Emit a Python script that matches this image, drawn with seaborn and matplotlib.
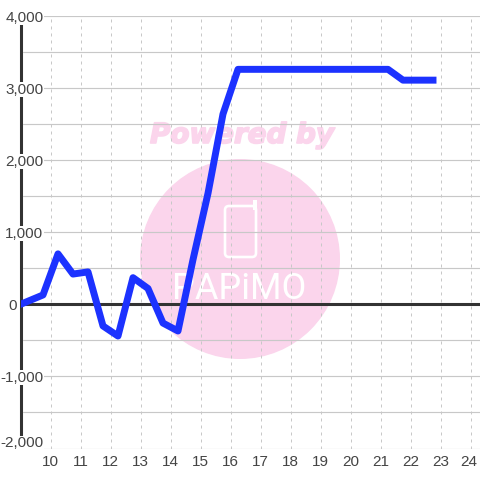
import matplotlib
matplotlib.use("Agg")
import matplotlib.pyplot as plt
import matplotlib.patheffects as pe
import matplotlib.transforms as mtrans
from matplotlib.patches import Circle, FancyBboxPatch, Rectangle
import pandas as pd
import seaborn as sns

hours = [9.0, 9.75, 10.25, 10.75, 11.25, 11.75, 12.25, 12.75, 13.25, 13.75, 14.25, 14.75,
         15.25, 15.75, 16.25, 16.75, 17.25, 17.75, 18.25, 18.75, 19.25, 19.75, 20.25,
         20.75, 21.25, 21.75, 22.25, 22.75]
values = [0, 130, 700, 420, 450, -300, -440, 370, 220, -260, -370, 620,
          1540, 2640, 3260, 3260, 3260, 3260, 3260, 3260, 3260, 3260, 3260,
          3260, 3260, 3110, 3110, 3110]
y_ticks = [-2000, -1000, 0, 1000, 2000, 3000, 4000]
y_labels = ["-2,000", "-1,000", "0", "1,000", "2,000", "3,000", "4,000"]
y_minor = [-1500, -500, 500, 1500, 2500, 3500]
x_ticks = list(range(10, 25))

sns.set_theme(style="white")
plt.rcParams["font.family"] = ["Liberation Sans", "DejaVu Sans"]

df = pd.DataFrame({"hour": hours, "value": values})

fig = plt.figure(figsize=(4.8, 4.8), dpi=100)
ax = fig.add_axes([20.5 / 480, 1 - 448.5 / 480, (480 - 20.5) / 480, (448.5 - 16) / 480])
ax.set_axisbelow(True)
ax.set_xlim(9, 9 + (480 - 20.5) / 30)
ax.set_ylim(-2000, 4000)

# watermark, in pixels from the top left corner
pix = mtrans.Affine2D().scale(1, -1).translate(0, 480)
pink = "#fbd5ec"
ax.add_patch(Circle((240, 259), 100, color=pink, lw=0, transform=pix, zorder=0.1))
ax.text(242, 135, "Powered by", transform=pix, ha="center", va="center", color=pink,
        fontsize=20, fontweight="bold", fontstyle="italic", family="DejaVu Sans", zorder=0.2,
        path_effects=[pe.withStroke(linewidth=1.2, foreground=pink)])
ax.add_patch(FancyBboxPatch((225, 206), 31, 51, boxstyle="round,pad=0,rounding_size=4", fc="none",
                            ec="white", lw=1.9, transform=pix, zorder=0.2))
ax.add_patch(Rectangle((253, 200), 3.5, 10, fc="white", lw=0, transform=pix, zorder=0.2))
ax.text(239, 289, "PAPiMO", transform=pix, ha="center", va="center", color="white",
        fontsize=26, family="Roboto", zorder=0.2)

sns.lineplot(data=df, x="hour", y="value", ax=ax, color="#1c32ff", lw=5, zorder=3,
             solid_capstyle="projecting", solid_joinstyle="round")
ax.axhline(0, color="#333333", lw=2.2, zorder=1.5)

ax.set_xlabel("")
ax.set_ylabel("")
ax.set_xticks(x_ticks)
ax.set_yticks(y_ticks)
ax.set_yticklabels(y_labels)
ax.set_yticks(y_minor, minor=True)

ax.grid(True, axis="y", which="both", color="#c8c8c8", lw=0.85, ls="-")
ax.grid(True, axis="x", color="#c8c8c8", lw=0.72, ls=(0, (3, 4)))
ax.tick_params(axis="both", which="both", length=0)
ax.tick_params(axis="y", pad=-16.5, labelsize=11, labelcolor="#444444")
ax.tick_params(axis="x", pad=5, labelsize=11, labelcolor="#444444")

for s in ["top", "right", "bottom"]:
    ax.spines[s].set_visible(False)
ax.spines["left"].set_color("#333333")
ax.spines["left"].set_linewidth(2.2)
ax.spines["left"].set_zorder(0.4)
ax.spines["left"].set_bounds(-1850, 4000)

for tick in ax.yaxis.get_minor_ticks():
    tick.gridline.set_xdata([0.005, 1])

for tick, v in zip(ax.yaxis.get_major_ticks(), y_ticks):
    lab = tick.label1
    lab.set_bbox(dict(fc="white", ec="none", pad=0.3))
    lab.set_clip_on(False)
    if v == 0:
        lab.set_transform(lab.get_transform() + mtrans.Affine2D().translate(-27, 0))
    if v == -2000:
        lab.set_transform(lab.get_transform() + mtrans.Affine2D().translate(0, 7))

last = ax.xaxis.get_major_ticks()[-1].label1
last.set_transform(last.get_transform() + mtrans.Affine2D().translate(-2, 0))

fig.savefig("out.png", dpi=100)
